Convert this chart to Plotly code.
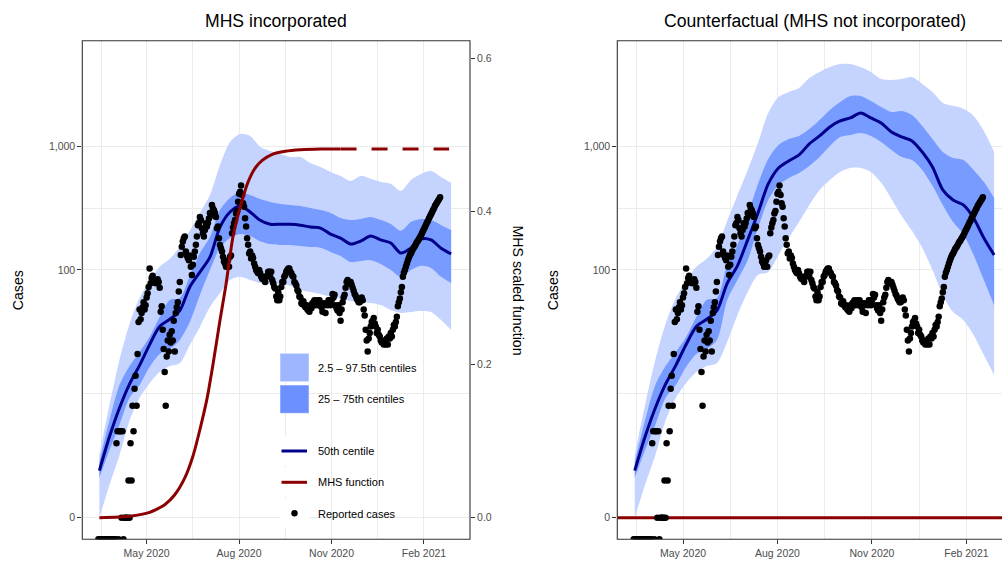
import plotly.graph_objects as go
import pandas as pd

W, H = 1002, 561

# ---------------- data ----------------
CASES_START = "2020-03-14"
REPORTED_CASES = [
    0, 0, 0, 0, 0, 0, 0, 0, 0, 0,
    0, 0, 0, 0, 0, 0, 0, 0, 4, 5,
    0, 5, 5, 1, 5, 0, 1, 1, 1, 1,
    2, 1, 4, 2, 8, 5, 11, 14, 8, 21,
    38, 48, 40, 45, 50, 55, 48, 52, 60, 65,
    73, 103, 78, 86, 90, 80, 82, 78, 80, 84,
    80, 72, 46, 51, 33, 23, 15, 8, 20, 27,
    22, 30, 26, 32, 27, 39, 22, 45, 50, 55,
    67, 80, 132, 154, 170, 180, 186, 141, 131, 125,
    120, 131, 106, 91, 110, 128, 141, 160, 186, 230,
    240, 268, 253, 217, 198, 186, 210, 238, 224, 240,
    260, 288, 276, 335, 313, 303, 288, 268, 217, 224,
    180, 159, 150, 141, 128, 117, 113, 106, 110, 120,
    106, 128, 131, 198, 220, 238, 253, 286, 300, 355,
    412, 429, 482, 404, 346, 324, 262, 224, 180, 160,
    136, 141, 124, 131, 125, 113, 106, 100, 97, 94,
    100, 94, 88, 85, 88, 83, 80, 88, 90, 97,
    97, 88, 97, 83, 78, 73, 71, 61, 57, 66,
    57, 61, 73, 80, 80, 88, 91, 97, 100, 103,
    103, 97, 94, 90, 88, 80, 78, 75, 69, 67,
    61, 60, 54, 53, 56, 52, 50, 52, 48, 47,
    46, 52, 49, 54, 55, 57, 52, 55, 57, 52,
    57, 52, 50, 46, 54, 52, 45, 54, 52, 57,
    57, 52, 57, 64, 60, 63, 52, 49, 47, 52,
    45, 39, 48, 55, 60, 63, 72, 80, 83, 80,
    78, 80, 76, 72, 68, 64, 62, 59, 57, 55,
    55, 57, 60, 57, 48, 43, 33, 27, 22, 28,
    31, 35, 38, 39, 41, 37, 35, 31, 33, 30,
    29, 27, 26, 27, 25, 26, 25, 28, 25, 29,
    28, 31, 29, 33, 36, 35, 38, 42, 51, 55,
    59, 66, 73, 88, 95, 100, 106, 113, 120, 126,
    132, 136, 142, 148, 152, 156, 162, 168, 172, 178,
    184, 190, 198, 206, 214, 222, 232, 242, 250, 262,
    272, 282, 292, 305, 315, 330, 340, 350, 362, 372,
    386,
]

BAND_START = "2020-03-15"   # model output every 10 days

# MHS incorporated
MED = [2.4, 4.5, 7.7, 12, 17, 25, 35, 40, 47, 73, 96, 127, 222, 294, 329, 294, 252, 234,
       234, 234, 230, 222, 218, 195, 181, 162, 171, 188, 175, 165, 137, 150, 178, 175, 150, 135]
LO95 = [1.0, 1.84, 3.2, 6.1, 9.3, 12.2, 15.0, 16.8, 17.7, 24.8, 34.7, 50.2, 65.2, 83, 88, 83, 78.5, 77,
        77, 74.3, 69, 66.4, 64, 60.5, 58.3, 56.2, 55.2, 54.2, 52.2, 47.6, 45, 45.8, 46.6, 45.8, 39.5, 32.8]
HI95 = [3.21, 8.13, 18.8, 36.6, 59.4, 81.5, 106, 123, 153, 207, 289, 403, 705, 1081, 1253, 1207, 984, 914,
        865, 818, 818, 731, 679, 619, 575, 524, 575, 544, 514, 496, 435, 533, 596, 630, 564, 505]
LO50 = [2.1, 3.5, 5.6, 9.3, 11.8, 16.5, 21, 23, 27.2, 38, 62.8, 100, 151, 181, 195, 188, 171, 162,
        159, 159, 156, 153, 151, 140, 130, 116, 118, 120, 112, 100, 88, 100, 108, 104, 88, 78.5]
HI50 = [2.82, 6.1, 11.8, 16.8, 21.8, 28.8, 41.7, 57.3, 59.4, 89.5, 137, 185, 305, 381, 426, 403, 374, 354,
        341, 335, 329, 317, 305, 289, 263, 253, 258, 268, 253, 235, 207, 244, 258, 253, 230, 210]

# Counterfactual (MHS not incorporated)
CF_MED = [2.4, 4.5, 7.7, 12, 17, 25, 35, 40, 47, 78, 108, 175, 289, 495, 666, 759, 849, 1042,
          1208, 1428, 1597, 1688, 1852, 1688, 1538, 1301, 1186, 1102, 897, 679, 443, 367, 335, 263, 181, 132]
CF_LO95 = [1.0, 1.84, 3.2, 6.1, 9.3, 12.2, 15.0, 16.8, 17.7, 26.2, 43.3, 66.4, 91, 96.4, 132, 181, 244, 335,
           443, 533, 619, 666, 666, 619, 505, 375, 273, 207, 151, 100, 62.8, 45.7, 39.5, 29.9, 20.6, 14.2]
CF_HI95 = [3.21, 8.13, 18.8, 36.6, 59.4, 81.5, 106, 123, 153, 250, 400, 641, 1060, 1850, 2490, 2733, 2944, 3546,
           3966, 4352, 4600, 4600, 4352, 3966, 3482, 3420, 3482, 3614, 3177, 2733, 2233, 2113, 2000, 1754, 1327, 897]
CF_LO50 = [2.1, 3.5, 5.6, 9.3, 11.8, 16.5, 21, 23, 27.2, 57.1, 83, 120, 218, 367, 485, 553, 607, 692,
           817, 1002, 1186, 1230, 1276, 1208, 1081, 931, 817, 773, 643, 478, 335, 244, 195, 132, 83, 52]
CF_HI50 = [2.82, 6.1, 11.8, 16.8, 21.8, 28.8, 41.7, 57.3, 59.4, 109, 159, 278, 495, 788, 1021, 1141, 1208, 1375,
           1627, 1959, 2273, 2541, 2541, 2314, 2069, 1887, 1922, 1786, 1455, 1141, 897, 803, 774, 643, 514, 382]

MHS_DATES = ["2020-03-15", "2020-04-14", "2020-05-04", "2020-05-19", "2020-05-29", "2020-06-08",
             "2020-06-16", "2020-06-23", "2020-06-30", "2020-07-06", "2020-07-13", "2020-07-19",
             "2020-07-26", "2020-08-03", "2020-08-10", "2020-08-17", "2020-08-24", "2020-09-03",
             "2020-09-16", "2020-10-01", "2020-10-21", "2020-11-10"]
MHS_VALUES = [0.0, 0.002, 0.007, 0.017, 0.030, 0.052, 0.080, 0.115, 0.155, 0.200, 0.258, 0.305,
              0.368, 0.410, 0.439, 0.457, 0.467, 0.475, 0.479, 0.481, 0.482, 0.482]
MHS_PROJ_DATES = ["2020-11-10", "2021-02-26"]
MHS_PROJ_VALUES = [0.482, 0.482]
CF_MHS_LEVEL = 0.0

MAJOR_DATES = ["2020-05-01", "2020-08-01", "2020-11-01", "2021-02-01"]
MAJOR_LABELS = ["May 2020", "Aug 2020", "Nov 2020", "Feb 2021"]
MINOR_DATES = ["2020-03-17", "2020-06-16", "2020-09-16", "2020-12-17"]
Y_TICKS = [1, 100, 1000]
Y_TICK_LABELS = ["0", "100", "1,000"]
Y_MINOR = [10, 316.23]
Y2_TICKS = [0.0, 0.2, 0.4, 0.6]
Y2_TICK_LABELS = ["0.0", "0.2", "0.4", "0.6"]

# ---------------- styling ----------------
LIGHT = "#C4D4FF"
DARK = "#789BFF"
LIGHT_KEY = "#9DB6FF"
DARK_KEY = "#6C90FF"
NAVY = "#00008B"
DARKRED = "#8B0000"
GRID = "#EBEBEB"
FRAME = "#333333"
FONT = "Liberation Sans, Arial, sans-serif"

X_START = "2020-02-27"
X_END_LEFT = "2021-03-18 19:00"
X_END_RIGHT = "2021-03-07 16:00"
Y_LOG_RANGE = [-0.174, 3.851]
Y2_RANGE = [-0.0282, 0.6235]
# secondary-axis value -> decades on the case axis (both share the same pixels)
SEC_TO_DECADES = (Y_LOG_RANGE[1] - Y_LOG_RANGE[0]) / (Y2_RANGE[1] - Y2_RANGE[0])

# panel geometry (pixels)
L_X0, L_X1 = 82.3, 470.0
R_X0, R_X1 = 617.3, 1013.5
P_Y0, P_Y1 = 40.7, 539.3


def px(x):
    return x / W


def py(y):
    return 1 - y / H


band_dates = pd.date_range(BAND_START, periods=len(MED), freq="10D")
case_dates = pd.date_range(CASES_START, periods=len(REPORTED_CASES), freq="D")
# zero counts sit at -Inf on the log scale: squish them to the panel edge
case_plot = [c if c > 0 else 10 ** Y_LOG_RANGE[0] for c in REPORTED_CASES]

fig = go.Figure()


def add_panel(xa, ya, lo95, hi95, lo50, hi50, med):
    common = dict(xaxis=xa, yaxis=ya, hoverinfo="skip", showlegend=False)
    fig.add_trace(go.Scatter(x=band_dates, y=lo95, mode="lines",
                             line=dict(width=0, shape="spline", smoothing=0.8), **common))
    fig.add_trace(go.Scatter(x=band_dates, y=hi95, mode="lines", fill="tonexty", fillcolor=LIGHT,
                             line=dict(width=0, shape="spline", smoothing=0.8), **common))
    fig.add_trace(go.Scatter(x=band_dates, y=lo50, mode="lines",
                             line=dict(width=0, shape="spline", smoothing=0.8), **common))
    fig.add_trace(go.Scatter(x=band_dates, y=hi50, mode="lines", fill="tonexty", fillcolor=DARK,
                             line=dict(width=0, shape="spline", smoothing=0.8), **common))
    fig.add_trace(go.Scatter(x=band_dates, y=med, mode="lines",
                             line=dict(color=NAVY, width=3, shape="spline", smoothing=0.8), **common))


MARKER = dict(color="black", size=6.5)

add_panel("x", "y", LO95, HI95, LO50, HI50, MED)
fig.add_trace(go.Scatter(x=MHS_DATES, y=MHS_VALUES, mode="lines", xaxis="x", yaxis="y2",
                         line=dict(color=DARKRED, width=3, shape="spline", smoothing=0.6),
                         hoverinfo="skip", showlegend=False))
fig.add_trace(go.Scatter(x=MHS_PROJ_DATES, y=MHS_PROJ_VALUES, mode="lines", xaxis="x", yaxis="y2",
                         line=dict(color=DARKRED, width=3, dash="16px,15px"),
                         hoverinfo="skip", showlegend=False))
fig.add_trace(go.Scatter(x=case_dates, y=case_plot, mode="markers", xaxis="x", yaxis="y",
                         marker=MARKER, hoverinfo="skip", showlegend=False))

add_panel("x2", "y3", CF_LO95, CF_HI95, CF_LO50, CF_HI50, CF_MED)
# counterfactual MHS function: zero across the whole panel (mapped through the secondary scale)
cf_level = 10 ** (CF_MHS_LEVEL * SEC_TO_DECADES)
fig.add_trace(go.Scatter(x=[X_START, X_END_RIGHT], y=[cf_level, cf_level], mode="lines",
                         xaxis="x2", yaxis="y3", line=dict(color=DARKRED, width=3),
                         hoverinfo="skip", showlegend=False))
fig.add_trace(go.Scatter(x=case_dates, y=case_plot, mode="markers", xaxis="x2", yaxis="y3",
                         marker=MARKER, hoverinfo="skip", showlegend=False))

tickfont = dict(family=FONT, size=10.5, color="#4D4D4D")
xcommon = dict(type="date", tickmode="array", tickvals=MAJOR_DATES, ticktext=MAJOR_LABELS,
               ticks="outside", ticklen=4, tickwidth=1, tickcolor=FRAME, tickfont=tickfont,
               showgrid=True, gridcolor=GRID, gridwidth=1.2, showline=False, zeroline=False,
               minor=dict(tickmode="array", tickvals=MINOR_DATES, showgrid=True,
                          gridcolor=GRID, gridwidth=0.6, ticks=""))
ycommon = dict(type="log", range=Y_LOG_RANGE, tickmode="array", tickvals=Y_TICKS,
               ticktext=Y_TICK_LABELS, ticks="outside", ticklen=4, tickwidth=1, tickcolor=FRAME,
               tickfont=tickfont, showgrid=True, gridcolor=GRID, gridwidth=1.2, showline=False,
               zeroline=False,
               minor=dict(tickmode="array", tickvals=Y_MINOR, showgrid=True,
                          gridcolor=GRID, gridwidth=0.6, ticks=""))

fig.update_layout(
    width=W, height=H, margin=dict(l=0, r=0, t=0, b=0),
    paper_bgcolor="white", plot_bgcolor="white", showlegend=False,
    font=dict(family=FONT),
    xaxis=dict(domain=[px(L_X0), px(L_X1)], anchor="y", range=[X_START, X_END_LEFT], **xcommon),
    yaxis=dict(domain=[py(P_Y1), py(P_Y0)], anchor="x", **ycommon),
    yaxis2=dict(overlaying="y", anchor="x", side="right", range=Y2_RANGE, tickmode="array",
                tickvals=Y2_TICKS, ticktext=Y2_TICK_LABELS, ticks="outside", ticklen=4,
                tickwidth=1, tickcolor=FRAME, tickfont=tickfont, showgrid=False,
                zeroline=False, showline=False),
    xaxis2=dict(domain=[px(R_X0), 1.0], anchor="y3", range=[X_START, X_END_RIGHT], **xcommon),
    yaxis3=dict(domain=[py(P_Y1), py(P_Y0)], anchor="x2", **ycommon),
)

shapes = []
# panel borders
shapes.append(dict(type="rect", xref="paper", yref="paper", x0=px(L_X0), x1=px(L_X1),
                   y0=py(P_Y1), y1=py(P_Y0), line=dict(color=FRAME, width=1.1), layer="above"))
shapes.append(dict(type="rect", xref="paper", yref="paper", x0=px(R_X0), x1=px(R_X1),
                   y0=py(P_Y1), y1=py(P_Y0), line=dict(color=FRAME, width=1.1), layer="above"))

# legend keys
KX0, KX1 = 280.0, 309.0
for (y0, y1, col) in [(353.3, 381.7, LIGHT_KEY), (385.0, 413.3, DARK_KEY)]:
    shapes.append(dict(type="rect", xref="paper", yref="paper", x0=px(KX0), x1=px(KX1),
                       y0=py(y1), y1=py(y0), fillcolor=col, line=dict(color="white", width=0.5),
                       layer="above"))
for yc in [451.0, 482.3, 513.3]:
    shapes.append(dict(type="rect", xref="paper", yref="paper", x0=px(KX0), x1=px(KX1),
                       y0=py(yc + 14.5), y1=py(yc - 14.5), fillcolor="white",
                       line=dict(width=0), layer="above"))
for yc, col in [(451.0, NAVY), (482.3, DARKRED)]:
    shapes.append(dict(type="line", xref="paper", yref="paper", x0=px(281.5), x1=px(307.0),
                       y0=py(yc), y1=py(yc), line=dict(color=col, width=3), layer="above"))
shapes.append(dict(type="circle", xref="paper", yref="paper", x0=px(291.3), x1=px(297.7),
                   y0=py(516.5), y1=py(510.1), fillcolor="black", line=dict(width=0),
                   layer="above"))
fig.update_layout(shapes=shapes)

ann = []
title_font = dict(family=FONT, size=17.6, color="black")
ann.append(dict(text="MHS incorporated", x=px((L_X0 + L_X1) / 2), y=py(20.7), xref="paper",
                yref="paper", showarrow=False, font=title_font, xanchor="center", yanchor="middle"))
ann.append(dict(text="Counterfactual (MHS not incorporated)", x=px((R_X0 + R_X1) / 2), y=py(20.7),
                xref="paper", yref="paper", showarrow=False, font=title_font,
                xanchor="center", yanchor="middle"))
axis_font = dict(family=FONT, size=14.2, color="black")
for xc in [18.3, 553.3]:
    ann.append(dict(text="Cases", x=px(xc), y=py(290), xref="paper", yref="paper",
                    showarrow=False, font=axis_font, textangle=-90,
                    xanchor="center", yanchor="middle"))
ann.append(dict(text="MHS scaled function", x=px(517.5), y=py(290), xref="paper", yref="paper",
                showarrow=False, font=axis_font, textangle=90, xanchor="center", yanchor="middle"))
leg_font = dict(family=FONT, size=11, color="black")
for text, yc in [("2.5 – 97.5th centiles", 368.3), ("25 – 75th centiles", 399.3),
                 ("50th centile", 451.0), ("MHS function", 482.3), ("Reported cases", 514.0)]:
    ann.append(dict(text=text, x=px(316.0), y=py(yc), xref="paper", yref="paper",
                    showarrow=False, font=leg_font, xanchor="left", yanchor="middle"))
fig.update_layout(annotations=ann)

fig.write_html("out.html")
